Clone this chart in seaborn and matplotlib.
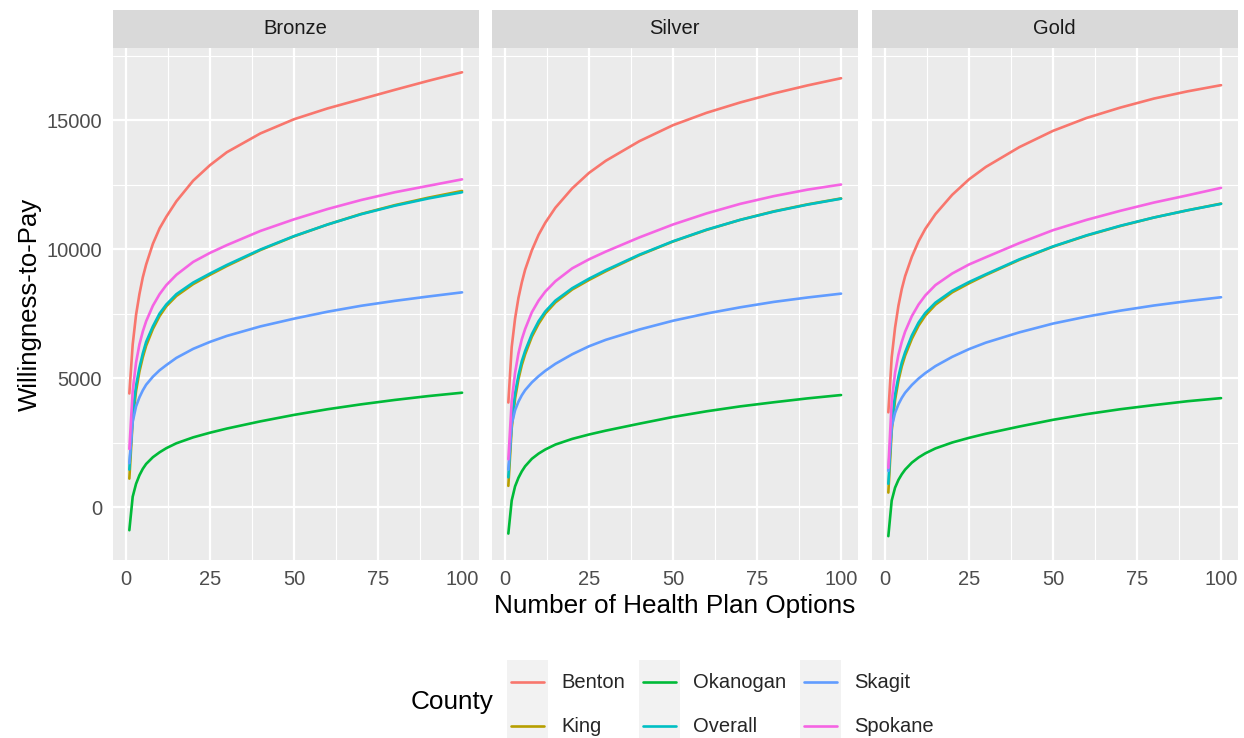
import matplotlib
matplotlib.use("Agg")
import matplotlib.pyplot as plt
from matplotlib.legend_handler import HandlerLine2D
from matplotlib.lines import Line2D
from matplotlib.patches import Rectangle
from matplotlib.ticker import MultipleLocator
import pandas as pd
import seaborn as sns

# values
options = [1, 2, 3, 4, 5, 6, 8, 10, 12, 15, 20, 25, 30, 40, 50, 60, 70, 80, 90, 100]
counties = ["Benton", "King", "Okanogan", "Overall", "Skagit", "Spokane"]
tiers = ["Bronze", "Silver", "Gold"]
colors = ["#F8766D", "#B79F00", "#00BA38", "#00BFC4", "#619CFF", "#F564E3"]

bronze_benton = [4400, 6300, 7450, 8250, 8900, 9400, 10200, 10800, 11250, 11850, 12650, 13250, 13750, 14480, 15030, 15450, 15810, 16170, 16520, 16850]
bronze_king = [1100, 3350, 4500, 5250, 5800, 6250, 6900, 7400, 7780, 8180, 8640, 9000, 9340, 9960, 10490, 10950, 11360, 11700, 11990, 12250]
bronze_okanogan = [-900, 400, 900, 1230, 1480, 1670, 1930, 2120, 2280, 2470, 2700, 2880, 3040, 3320, 3570, 3790, 3980, 4150, 4300, 4430]
bronze_overall = [1450, 3600, 4700, 5400, 5950, 6400, 7000, 7500, 7850, 8250, 8700, 9050, 9380, 9980, 10500, 10950, 11350, 11680, 11960, 12200]
bronze_skagit = [1700, 3300, 3900, 4250, 4520, 4740, 5050, 5300, 5500, 5780, 6130, 6400, 6630, 7000, 7300, 7570, 7800, 7990, 8160, 8320]
bronze_spokane = [2250, 4500, 5600, 6300, 6800, 7200, 7800, 8250, 8600, 9000, 9500, 9850, 10150, 10700, 11150, 11550, 11900, 12200, 12450, 12700]

silver_benton = [4050, 6200, 7300, 8100, 8700, 9200, 9950, 10550, 11020, 11600, 12350, 12950, 13420, 14180, 14800, 15280, 15680, 16030, 16340, 16620]
silver_king = [820, 3050, 4200, 4950, 5500, 5920, 6600, 7100, 7500, 7930, 8430, 8800, 9140, 9760, 10290, 10740, 11130, 11460, 11730, 11960]
silver_okanogan = [-1030, 250, 800, 1130, 1380, 1580, 1870, 2070, 2230, 2420, 2640, 2810, 2960, 3230, 3490, 3710, 3900, 4060, 4210, 4340]
silver_overall = [1150, 3300, 4400, 5100, 5650, 6050, 6700, 7200, 7580, 8000, 8480, 8850, 9180, 9780, 10300, 10750, 11130, 11450, 11720, 11950]
silver_skagit = [1450, 3200, 3750, 4080, 4330, 4530, 4830, 5070, 5280, 5550, 5920, 6230, 6480, 6880, 7220, 7500, 7740, 7950, 8120, 8270]
silver_spokane = [1850, 4100, 5200, 5950, 6500, 6900, 7550, 8000, 8350, 8750, 9250, 9600, 9900, 10450, 10950, 11380, 11750, 12050, 12300, 12500]

gold_benton = [3670, 5800, 6950, 7800, 8450, 8950, 9700, 10300, 10780, 11350, 12100, 12700, 13180, 13950, 14580, 15080, 15480, 15830, 16110, 16350]
gold_king = [560, 2950, 4150, 4900, 5450, 5870, 6520, 7030, 7420, 7840, 8320, 8670, 8990, 9580, 10090, 10520, 10890, 11220, 11500, 11760]
gold_okanogan = [-1130, 250, 750, 1050, 1270, 1450, 1720, 1920, 2080, 2270, 2500, 2680, 2840, 3120, 3380, 3600, 3790, 3950, 4100, 4220]
gold_overall = [900, 3200, 4350, 5050, 5600, 6000, 6650, 7150, 7520, 7920, 8380, 8720, 9020, 9600, 10100, 10530, 10900, 11220, 11500, 11750]
gold_skagit = [1400, 3100, 3650, 3980, 4230, 4430, 4730, 4980, 5190, 5460, 5820, 6120, 6370, 6770, 7110, 7380, 7610, 7810, 7980, 8130]
gold_spokane = [1520, 4100, 5200, 5900, 6400, 6800, 7400, 7850, 8200, 8600, 9050, 9400, 9680, 10230, 10730, 11130, 11480, 11800, 12080, 12370]

series = {
    "Bronze": [bronze_benton, bronze_king, bronze_okanogan, bronze_overall, bronze_skagit, bronze_spokane],
    "Silver": [silver_benton, silver_king, silver_okanogan, silver_overall, silver_skagit, silver_spokane],
    "Gold": [gold_benton, gold_king, gold_okanogan, gold_overall, gold_skagit, gold_spokane],
}
rows = []
for tier in tiers:
    for county, vals in zip(counties, series[tier]):
        for x, v in zip(options, vals):
            rows.append((tier, county, x, v))
df = pd.DataFrame(rows, columns=["Tier", "County", "Options", "WTP"])

sns.set_style("darkgrid")
plt.rcParams["font.family"] = ["Liberation Sans", "DejaVu Sans"]

W, H = 1244, 738
fig = plt.figure(figsize=(W / 100, H / 100), dpi=100)

lefts = [112.7, 491.7, 871.7]
pw = 366
p_top, p_bot = 48, 560


class KeyBox(HandlerLine2D):
    # grey square behind each legend key, line centred in it, like ggplot
    def create_artists(self, legend, orig_handle, xdescent, ydescent, width, height, fontsize, trans):
        arts = super().create_artists(legend, orig_handle, xdescent, ydescent, width, height, fontsize, trans)
        for a in arts:
            yd = a.get_ydata()
            a.set_ydata([height / 2 - ydescent] * len(yd))
        box = Rectangle((-xdescent - 2.9, -ydescent), width + 5.8, height,
                        facecolor="#F2F2F2", edgecolor="none", transform=trans)
        return [box] + arts


for i, tier in enumerate(tiers):
    ax = fig.add_axes([lefts[i] / W, 1 - p_bot / H, pw / W, (p_bot - p_top) / H])
    sns.lineplot(data=df[df.Tier == tier], x="Options", y="WTP", hue="County",
                 hue_order=counties, palette=colors, linewidth=1.9, ax=ax,
                 legend=False, errorbar=None)
    ax.set_facecolor("#EBEBEB")
    ax.set_xlim(-3.95, 104.95)
    ax.set_ylim(-2054, 17791)
    ax.xaxis.set_major_locator(MultipleLocator(25))
    ax.xaxis.set_minor_locator(MultipleLocator(12.5))
    ax.yaxis.set_major_locator(MultipleLocator(5000))
    ax.yaxis.set_minor_locator(MultipleLocator(2500))
    ax.grid(which="major", color="white", linewidth=1.6)
    ax.grid(which="minor", color="white", linewidth=0.8)
    ax.set_axisbelow(True)
    for s in ax.spines.values():
        s.set_visible(False)
    ax.set_xlabel("")
    ax.set_ylabel("")
    ax.tick_params(which="minor", length=0)
    ax.tick_params(axis="x", which="major", length=3.6, width=1.0, color="#333333",
                   labelsize=14.5, labelcolor="#4D4D4D", pad=3.5)
    if i == 0:
        ax.tick_params(axis="y", which="major", length=3.6, width=1.0, color="#333333",
                       labelsize=14.5, labelcolor="#4D4D4D", pad=4)
    else:
        ax.tick_params(axis="y", which="major", length=0, labelleft=False)

    sax = fig.add_axes([lefts[i] / W, 1 - p_top / H, pw / W, 38 / H])
    sax.set_facecolor("#D9D9D9")
    sax.set_xticks([])
    sax.set_yticks([])
    for s in sax.spines.values():
        s.set_visible(False)
    sax.text(0.5, 0.5, tier, ha="center", va="center", fontsize=14.5, color="#1A1A1A",
             transform=sax.transAxes)

fig.text(30 / W, 1 - 304 / H, "Willingness-to-Pay", rotation=90, ha="center", va="center",
         fontsize=18.5, color="black")
fig.text(675 / W, 1 - 606 / H, "Number of Health Plan Options", ha="center", va="center",
         fontsize=18.8, color="black")

handles = [Line2D([], [], color=c, linewidth=1.9) for c in colors]
fig.legend(handles, counties, ncol=3, loc="center left",
           bbox_to_anchor=(511 / W, 1 - 704 / H), frameon=False, fontsize=14.5,
           handlelength=1.64, handleheight=2.99, labelspacing=0, handletextpad=0.84,
           columnspacing=0.9, borderpad=0, borderaxespad=0,
           handler_map={Line2D: KeyBox()})
fig.text(411 / W, 1 - 702 / H, "County", ha="left", va="center", fontsize=18.8, color="black")

fig.savefig("out.png", dpi=100)
